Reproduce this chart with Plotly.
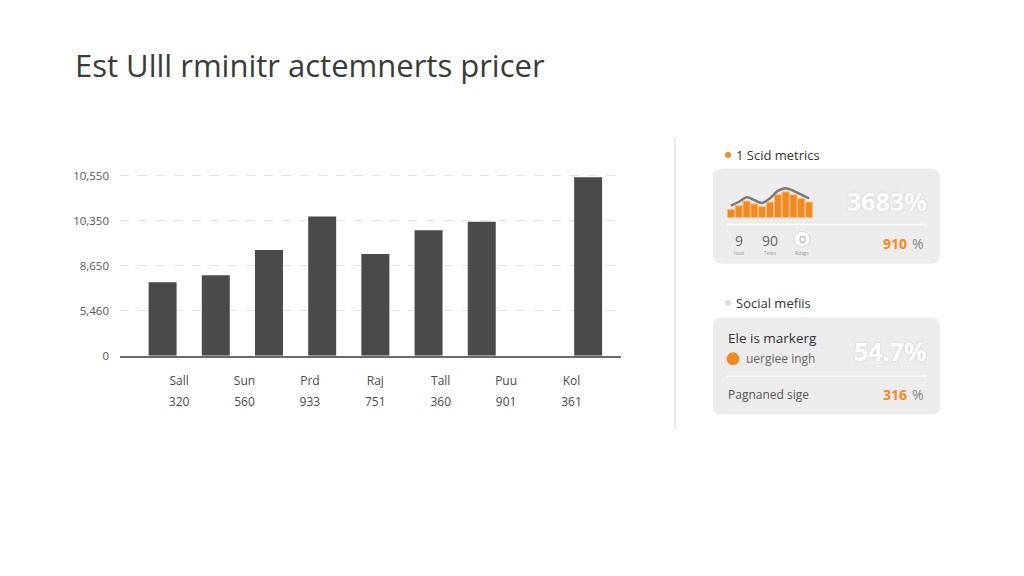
import plotly.graph_objects as go

# ---------------- data ----------------
title_text = "Est Ulll rminitr actemnerts pricer"
bar_values = [4080, 4460, 5870, 7720, 5650, 6960, 7440, None, 9900]
cat_names = ["Sall", "Sun", "Prd", "Raj", "Tall", "Puu", "Kol"]
cat_values = ["320", "560", "933", "751", "360", "901", "361"]
y_tick_vals = [0, 2500, 5000, 7500, 10000]
y_tick_text = ["0", "5,460", "8,650", "10,350", "10,550"]

spark_bars = [9, 13, 18, 15, 12, 17, 25, 28, 25, 21, 17]
spark_line = [13, 17, 22, 19, 16, 21, 29, 32, 29, 25, 21]

card1_legend = "1 Scid metrics"
card1_big = "3683%"
card1_stats = ["9", "90"]
card1_stat_labels = ["Issst", "Tews", "Rdsgs"]
card1_orange = "910"
card2_legend = "Social mefiis"
card2_head = "Ele is markerg"
card2_sub = "uergiee ingh"
card2_big = "54.7%"
card2_foot = "Pagnaned sige"
card2_orange = "316"

W, H = 1024, 576
OFF = 8  # page body margin
ORANGE = "#f28a24"
FONT = "Open Sans"


def px(x):
    return (x - OFF) / W


def py(y):
    return 1 - (y - OFF) / H


def rounded_rect(x0, y0, x1, y1, r=8):
    rx, ry = r / W, r / H
    X0, X1 = px(x0), px(x1)
    Y0, Y1 = py(y1), py(y0)
    return (f"M {X0+rx},{Y0} L {X1-rx},{Y0} Q {X1},{Y0} {X1},{Y0+ry} "
            f"L {X1},{Y1-ry} Q {X1},{Y1} {X1-rx},{Y1} L {X0+rx},{Y1} "
            f"Q {X0},{Y1} {X0},{Y1-ry} L {X0},{Y0+ry} Q {X0},{Y0} {X0+rx},{Y0} Z")


fig = go.Figure()

slots = list(range(len(bar_values)))
fig.add_trace(go.Bar(
    x=slots, y=bar_values, width=0.526,
    marker=dict(color="#4a4a4a", line=dict(width=0)),
    hoverinfo="skip", xaxis="x", yaxis="y",
))
# category label axis (evenly spaced names)
fig.add_trace(go.Scatter(
    x=list(range(len(cat_names))), y=[None] * len(cat_names),
    mode="markers", xaxis="x3", yaxis="y", hoverinfo="skip",
    showlegend=False,
))

fig.add_trace(go.Bar(
    x=list(range(len(spark_bars))), y=spark_bars,
    marker=dict(color=ORANGE, line=dict(color="#fbc58d", width=1)),
    xaxis="x2", yaxis="y2", hoverinfo="skip",
))
fig.add_trace(go.Scatter(
    x=list(range(len(spark_line))), y=spark_line, mode="lines",
    line=dict(color="#7a7a7a", width=2.5, shape="spline"),
    xaxis="x2", yaxis="y2", hoverinfo="skip",
))

tick_text = [f"<span style='font-size:12px'>{n}</span><br>"
             f"<span style='font-size:12px'>{v}</span>"
             for n, v in zip(cat_names, cat_values)]

fig.update_layout(
    width=W, height=H,
    margin=dict(l=0, r=0, t=0, b=0),
    paper_bgcolor="white", plot_bgcolor="rgba(0,0,0,0)",
    showlegend=False,
    bargap=0.06,
    font=dict(family=FONT, color="#555"),
    xaxis=dict(
        domain=[px(120), px(621)], range=[-0.801, 8.618],
        showticklabels=False,
        showgrid=False, zeroline=False, showline=True,
        linecolor="#6a6a6a", linewidth=1.5, ticks="",
    ),
    xaxis3=dict(
        domain=[px(120), px(621)], range=[-0.904, 6.757],
        overlaying="x", anchor="y", side="bottom",
        tickvals=list(range(len(cat_names))), ticktext=tick_text,
        tickfont=dict(size=16, color="#4a4a4a", family=FONT),
        showgrid=False, zeroline=False, showline=False, ticks="",
        ticklabelstandoff=12,
    ),
    yaxis=dict(
        domain=[py(358), py(171)], range=[0, 10163],
        tickvals=y_tick_vals, ticktext=y_tick_text,
        tickfont=dict(size=11.5, color="#555", family=FONT),
        showgrid=True, gridcolor="#e2e2e2", griddash="dash", gridwidth=1,
        zeroline=False, showline=False, ticks="", ticklabelstandoff=10,
    ),
    xaxis2=dict(domain=[px(727), px(813)], range=[-0.5, len(spark_bars) - 0.5],
                visible=False, anchor="y2"),
    yaxis2=dict(domain=[py(217), py(185)], range=[0, 34], visible=False,
                anchor="x2"),
)

# title
fig.add_annotation(x=px(73), y=py(61), xref="paper", yref="paper",
                   xanchor="left", yanchor="middle", text=title_text,
                   showarrow=False,
                   font=dict(size=31, color="#3a3a3a", family=FONT))

shapes = []
shapes.append(dict(type="line", xref="paper", yref="paper",
                   x0=px(675), x1=px(675), y0=py(135), y1=py(433),
                   line=dict(color="#ececec", width=2)))
for (y0, y1) in [(167, 264), (319, 418)]:
    shapes.append(dict(type="path", xref="paper", yref="paper",
                       path=rounded_rect(713, y0, 940, y1, 9),
                       fillcolor="#ececec", line=dict(width=0), layer="below"))
for ys in [224, 379]:
    shapes.append(dict(type="line", xref="paper", yref="paper",
                       x0=px(727), x1=px(927), y0=py(ys), y1=py(ys),
                       line=dict(color="#fafafa", width=1.5)))
shapes.append(dict(type="circle", xref="paper", yref="paper",
                   x0=px(725), x1=px(731), y0=py(156), y1=py(150),
                   fillcolor=ORANGE, line=dict(width=0)))
shapes.append(dict(type="circle", xref="paper", yref="paper",
                   x0=px(725), x1=px(731), y0=py(307), y1=py(301),
                   fillcolor="#dadada", line=dict(width=0)))
shapes.append(dict(type="circle", xref="paper", yref="paper",
                   x0=px(726.5), x1=px(739.5), y0=py(367.5), y1=py(354.5),
                   fillcolor=ORANGE, line=dict(width=0)))
shapes.append(dict(type="circle", xref="paper", yref="paper",
                   x0=px(794), x1=px(810), y0=py(247), y1=py(231),
                   fillcolor="white", line=dict(color="#d8d8d8", width=1)))
fig.update_layout(shapes=shapes)


def txt(x, y, s, size, color, anchor="left", bold=False, shadow=None):
    f = dict(size=size, color=color, family=FONT)
    if bold:
        f["weight"] = "bold"
    if shadow:
        f["shadow"] = shadow
    fig.add_annotation(x=px(x), y=py(y), xref="paper", yref="paper",
                       xanchor=anchor, yanchor="middle", text=s,
                       showarrow=False, font=f)


SH = "0px 0px 3px rgba(0,0,0,0.12)"
txt(734, 153, card1_legend, 13, "#333")
txt(929, 200, card1_big, 25, "white", "right", True, SH)
txt(739, 240, card1_stats[0], 14, "#666", "center")
txt(770, 240, card1_stats[1], 14, "#666", "center")
txt(802, 239, "O", 9, "#999", "center")
for xx, lab in zip([739, 770, 802], card1_stat_labels):
    txt(xx, 253, lab, 5, "#999", "center")
txt(895, 243, card1_orange, 14, ORANGE, "center", True)
txt(918, 243, "%", 14, "#888", "center")

txt(734, 304, card2_legend, 13, "#333")
txt(726, 340, card2_head, 13.5, "#333")
txt(744, 361, card2_sub, 12, "#666")
txt(929, 353, card2_big, 25, "white", "right", True, SH)
txt(726, 398, card2_foot, 12, "#555")
txt(895, 398, card2_orange, 14, ORANGE, "center", True)
txt(918, 398, "%", 14, "#888", "center")

fig.write_html("out.html")
